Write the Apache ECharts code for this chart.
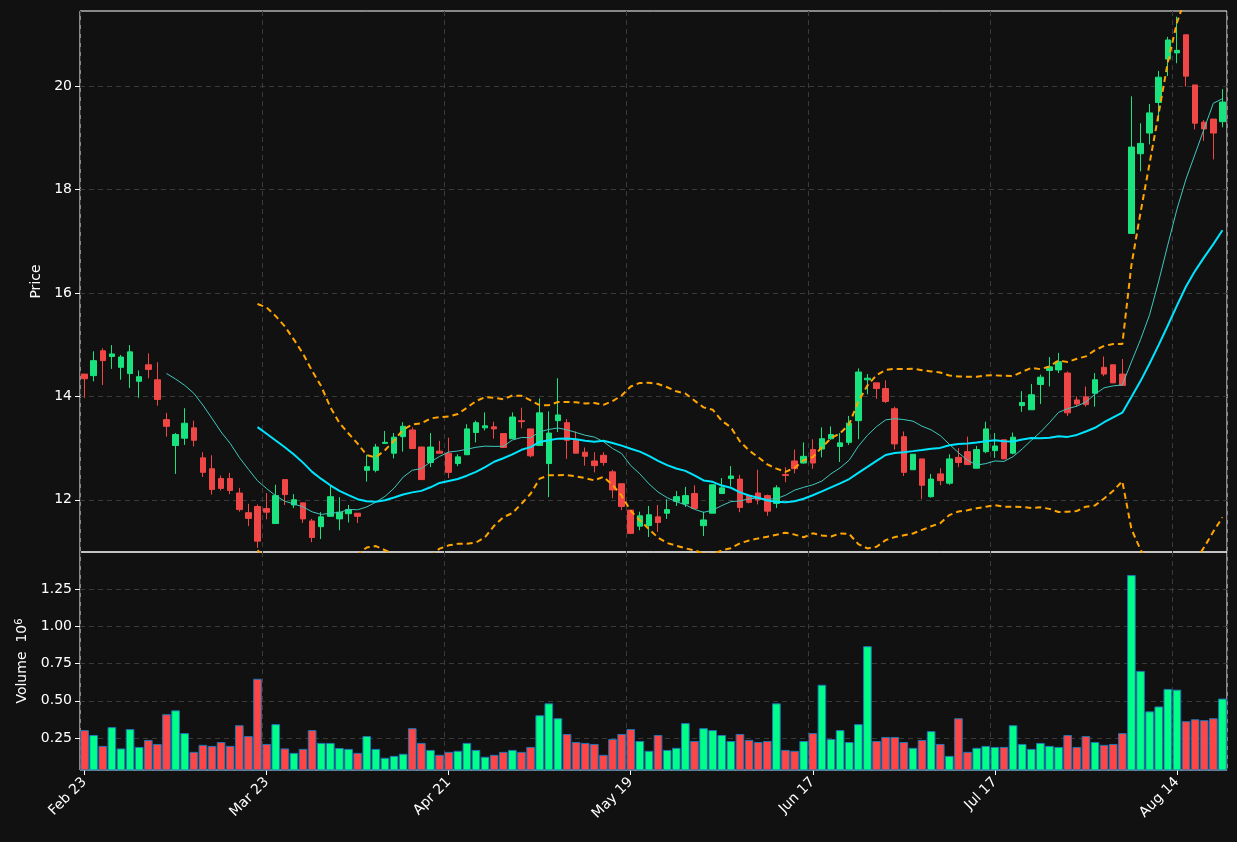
<!DOCTYPE html>
<html><head><meta charset="utf-8">
<script src="https://cdn.jsdelivr.net/npm/echarts@6/dist/echarts.min.js"></script>
<style>html,body{margin:0;padding:0;background:#111111;}#c{width:1237px;height:842px;}</style>
</head><body><div id="c"></div>
<script>
const tickLabels = ['Feb 23','Mar 23','Apr 21','May 19','Jun 17','Jul 17','Aug 14'];
const opens = [14.43,14.40,14.88,14.77,14.56,14.44,14.29,14.61,14.32,13.55,13.05,13.19,13.39,12.81,12.60,12.41,12.41,12.13,11.75,11.87,
11.83,11.54,12.39,11.90,11.94,11.59,11.48,11.68,11.63,11.73,11.74,12.57,12.57,13.09,12.90,13.22,13.35,13.02,12.72,12.94,
12.90,12.70,12.87,13.30,13.39,13.41,13.28,13.18,13.53,13.37,13.05,12.70,13.53,13.49,13.15,12.92,12.75,12.86,12.54,12.31,
11.80,11.49,11.50,11.67,11.74,11.97,11.92,12.12,11.50,11.74,12.12,12.41,12.40,12.08,12.13,12.08,11.93,12.49,12.75,12.71,
12.97,12.98,13.18,13.03,13.11,13.53,14.32,14.26,14.15,13.76,13.22,12.58,12.79,12.06,12.50,12.32,12.82,12.93,12.61,12.93,
12.95,13.16,12.90,13.82,13.74,14.23,14.50,14.51,14.45,13.93,13.99,14.06,14.56,14.61,14.43,17.15,18.69,19.09,19.68,20.52,
20.64,20.99,20.02,19.30,19.36,19.31];
const closes = [14.34,14.69,14.69,14.82,14.76,14.86,14.38,14.52,13.94,13.42,13.26,13.48,13.15,12.53,12.20,12.22,12.18,11.81,11.64,11.20,
11.76,12.08,12.10,12.00,11.63,11.27,11.67,12.06,11.76,11.81,11.68,12.64,13.02,13.11,13.21,13.42,12.99,12.39,13.02,12.90,
12.53,12.83,13.37,13.49,13.43,13.37,13.01,13.60,13.51,12.85,13.68,13.29,13.64,13.15,12.90,12.84,12.66,12.72,12.19,11.87,
11.35,11.69,11.71,11.56,11.81,12.06,12.08,11.83,11.61,12.29,12.23,12.46,11.85,11.95,12.00,11.78,12.23,12.47,12.60,12.84,
12.71,13.18,13.26,13.10,13.48,14.47,14.35,14.15,13.90,13.08,12.53,12.88,12.28,12.40,12.37,12.79,12.72,12.68,12.97,13.37,
13.04,12.79,13.21,13.88,14.03,14.37,14.57,14.67,13.68,13.85,13.84,14.32,14.43,14.26,14.21,18.82,18.89,19.48,20.17,20.89,
20.69,20.19,19.28,19.17,19.09,19.69];
const lows = [13.97,14.29,14.22,14.53,14.32,14.16,13.97,14.35,13.82,13.22,12.50,13.06,13.03,12.44,12.10,12.18,12.11,11.77,11.49,11.07,
11.62,11.54,11.90,11.84,11.55,11.18,11.24,11.68,11.41,11.56,11.55,12.35,12.53,13.08,12.80,12.93,12.99,12.39,12.63,12.90,
12.42,12.65,12.87,13.11,13.34,13.18,13.01,13.18,13.38,12.82,13.05,12.05,13.31,12.79,12.90,12.66,12.53,12.66,12.03,11.80,
11.35,11.41,11.28,11.38,11.63,11.88,11.86,11.83,11.30,11.74,12.12,12.26,11.76,11.93,11.91,11.69,11.84,12.34,12.51,12.70,
12.60,12.82,13.16,12.73,13.06,13.17,14.04,13.95,13.87,12.97,12.46,12.58,12.01,12.04,12.28,12.29,12.63,12.68,12.61,12.90,
12.81,12.79,12.88,13.70,13.74,13.85,14.19,14.45,13.62,13.80,13.80,13.80,14.39,14.26,14.21,17.15,18.35,18.87,19.32,20.19,
20.44,19.99,19.16,18.94,18.58,19.20];
const highs = [14.43,14.87,14.93,14.99,14.80,14.99,14.50,14.83,14.66,13.68,13.29,13.77,13.53,12.92,12.86,12.47,12.52,12.23,11.92,11.91,
12.13,12.29,12.39,12.11,11.94,11.63,11.76,12.28,12.05,11.90,11.74,12.87,13.08,13.33,13.29,13.50,13.40,13.02,13.29,13.14,
13.20,12.88,13.46,13.53,13.69,13.51,13.28,13.69,13.78,13.37,13.96,13.71,14.35,13.56,13.32,13.01,12.92,12.92,12.58,12.31,
11.80,11.77,11.88,11.90,12.01,12.17,12.25,12.28,11.77,12.29,12.42,12.65,12.48,12.10,12.58,12.10,12.28,12.63,12.97,13.11,
13.17,13.40,13.42,13.29,13.62,14.54,14.43,14.26,14.31,13.80,13.32,12.88,12.79,12.50,12.61,12.88,13.00,13.22,13.04,13.51,
13.29,13.16,13.30,14.10,14.24,14.42,14.76,14.84,14.48,14.00,14.19,14.45,14.77,14.61,14.72,19.80,19.28,19.65,20.29,20.95,
21.34,20.99,20.02,19.34,19.36,19.94];
const volumes = [0.303,0.27,0.197,0.323,0.18,0.31,0.19,0.237,0.21,0.41,0.436,0.283,0.157,0.204,0.197,0.223,0.197,0.336,0.263,0.648,
0.21,0.343,0.18,0.15,0.177,0.303,0.217,0.217,0.183,0.177,0.15,0.263,0.177,0.117,0.13,0.144,0.316,0.217,0.17,0.137,
0.157,0.164,0.217,0.17,0.124,0.137,0.157,0.17,0.157,0.19,0.403,0.483,0.383,0.277,0.223,0.217,0.21,0.137,0.243,0.277,
0.31,0.23,0.164,0.27,0.17,0.184,0.35,0.23,0.316,0.303,0.27,0.23,0.277,0.237,0.223,0.23,0.483,0.17,0.164,0.23,
0.283,0.608,0.243,0.303,0.223,0.343,0.867,0.23,0.257,0.257,0.223,0.184,0.237,0.296,0.21,0.13,0.383,0.157,0.184,0.197,
0.19,0.19,0.336,0.21,0.177,0.217,0.197,0.19,0.27,0.19,0.263,0.223,0.204,0.21,0.283,1.345,0.701,0.429,0.462,0.58,
0.575,0.363,0.376,0.37,0.383,0.515];

const N = closes.length;
const idx = closes.map((_, i) => i);
function sma(n) {
  return closes.map((_, i) => {
    if (i < n - 1) return null;
    let s = 0; for (let k = i - n + 1; k <= i; k++) s += closes[k];
    return +(s / n).toFixed(4);
  });
}
const ma10 = sma(10), ma20 = sma(20);
const bbUp = [], bbLo = [];
for (let i = 0; i < N; i++) {
  if (i < 19) { bbUp.push(null); bbLo.push(null); continue; }
  let m = ma20[i], v = 0;
  for (let k = i - 19; k <= i; k++) v += (closes[k] - m) ** 2;
  const sd = Math.sqrt(v / 20);
  bbUp.push(+(m + 2 * sd).toFixed(4)); bbLo.push(+(m - 2 * sd).toFixed(4));
}
const UP = '#19e37f', DN = '#f04646', VUP = '#00ff88', VDN = '#ff4545';
const candles = idx.map(i => [opens[i], closes[i], lows[i], highs[i]]);
const volData = idx.map(i => ({ value: volumes[i], itemStyle: { color: closes[i] >= opens[i] ? VUP : VDN } }));

const font = 'DejaVu Sans';
const gridLine = { show: true, interval: 19, lineStyle: { color: '#3a3a3a', type: [5, 4], width: 1 } };
const ySplit = { show: true, lineStyle: { color: '#3a3a3a', type: [5, 4], width: 1 } };
const chart = echarts.init(document.getElementById('c'));
chart.setOption({
  backgroundColor: '#111111',
  animation: false,
  textStyle: { fontFamily: font },
  grid: [
    { left: 80, right: 10, top: 11, height: 541, show: true, borderColor: '#ffffff', borderWidth: 1, backgroundColor: 'transparent' },
    { left: 80, right: 10, top: 552, height: 218, show: true, borderColor: '#ffffff', borderWidth: 1, backgroundColor: 'transparent' }
  ],
  xAxis: [
    { type: 'category', gridIndex: 0, data: idx, boundaryGap: true,
      axisLine: { show: false }, axisTick: { show: false }, axisLabel: { show: false }, splitLine: gridLine },
    { type: 'category', gridIndex: 1, data: idx, boundaryGap: true,
      axisLine: { show: false },
      axisTick: { show: true, interval: 19, alignWithLabel: true, length: 5, lineStyle: { color: '#ffffff' } },
      axisLabel: { interval: 19, rotate: 45, color: '#ffffff', fontSize: 14, fontFamily: font, margin: 10,
        formatter: v => tickLabels[Math.round(v / 20)] || '' },
      splitLine: gridLine }
  ],
  yAxis: [
    { type: 'value', gridIndex: 0, min: 10.99, max: 21.45, position: 'left',
      name: 'Price', nameLocation: 'middle', nameGap: 34, nameRotate: 90,
      nameTextStyle: { color: '#ffffff', fontSize: 14, fontFamily: font },
      axisLine: { show: false }, axisTick: { show: true, length: 5, lineStyle: { color: '#fff' }, customValues: [12, 14, 16, 18, 20] },
      axisLabel: { color: '#ffffff', fontSize: 14, fontFamily: font, customValues: [12, 14, 16, 18, 20] },
      splitLine: ySplit },
    { type: 'value', gridIndex: 1, min: 0.035, max: 1.5, position: 'left',
      name: 'Volume  10{s|6}', nameLocation: 'middle', nameGap: 50, nameRotate: 90,
      nameTextStyle: { color: '#ffffff', fontSize: 14, fontFamily: font, rich: { s: { fontSize: 10, color: '#fff', verticalAlign: 'top', padding: [0, 0, 6, 0] } } },
      axisLine: { show: false }, axisTick: { show: true, length: 5, lineStyle: { color: '#fff' }, customValues: [0.25, 0.5, 0.75, 1.0, 1.25] },
      axisLabel: { color: '#ffffff', fontSize: 14, fontFamily: font, customValues: [0.25, 0.5, 0.75, 1.0, 1.25], formatter: v => v.toFixed(2) },
      splitLine: ySplit }
  ],
  series: [
    { type: 'candlestick', xAxisIndex: 0, yAxisIndex: 0, data: candles, barWidth: 6,
      itemStyle: { color: UP, color0: DN, borderColor: UP, borderColor0: DN, borderWidth: 1 } },
    { type: 'line', xAxisIndex: 0, yAxisIndex: 0, data: ma10, showSymbol: false, smooth: false,
      lineStyle: { color: '#3fc8bd', width: 1 }, z: 3 },
    { type: 'line', xAxisIndex: 0, yAxisIndex: 0, data: ma20, showSymbol: false,
      lineStyle: { color: '#00e5ff', width: 2 }, z: 3 },
    { type: 'line', xAxisIndex: 0, yAxisIndex: 0, data: bbUp, showSymbol: false, clip: true,
      lineStyle: { color: '#ffa500', width: 2, type: [6, 4] }, z: 3 },
    { type: 'line', xAxisIndex: 0, yAxisIndex: 0, data: bbLo, showSymbol: false, clip: true,
      lineStyle: { color: '#ffa500', width: 2, type: [6, 4] }, z: 3 },
    { type: 'bar', xAxisIndex: 1, yAxisIndex: 1, data: volData, barCategoryGap: '5%',
      itemStyle: { borderColor: '#1f77b4', borderWidth: 1 } }
  ]
});
</script></body></html>
